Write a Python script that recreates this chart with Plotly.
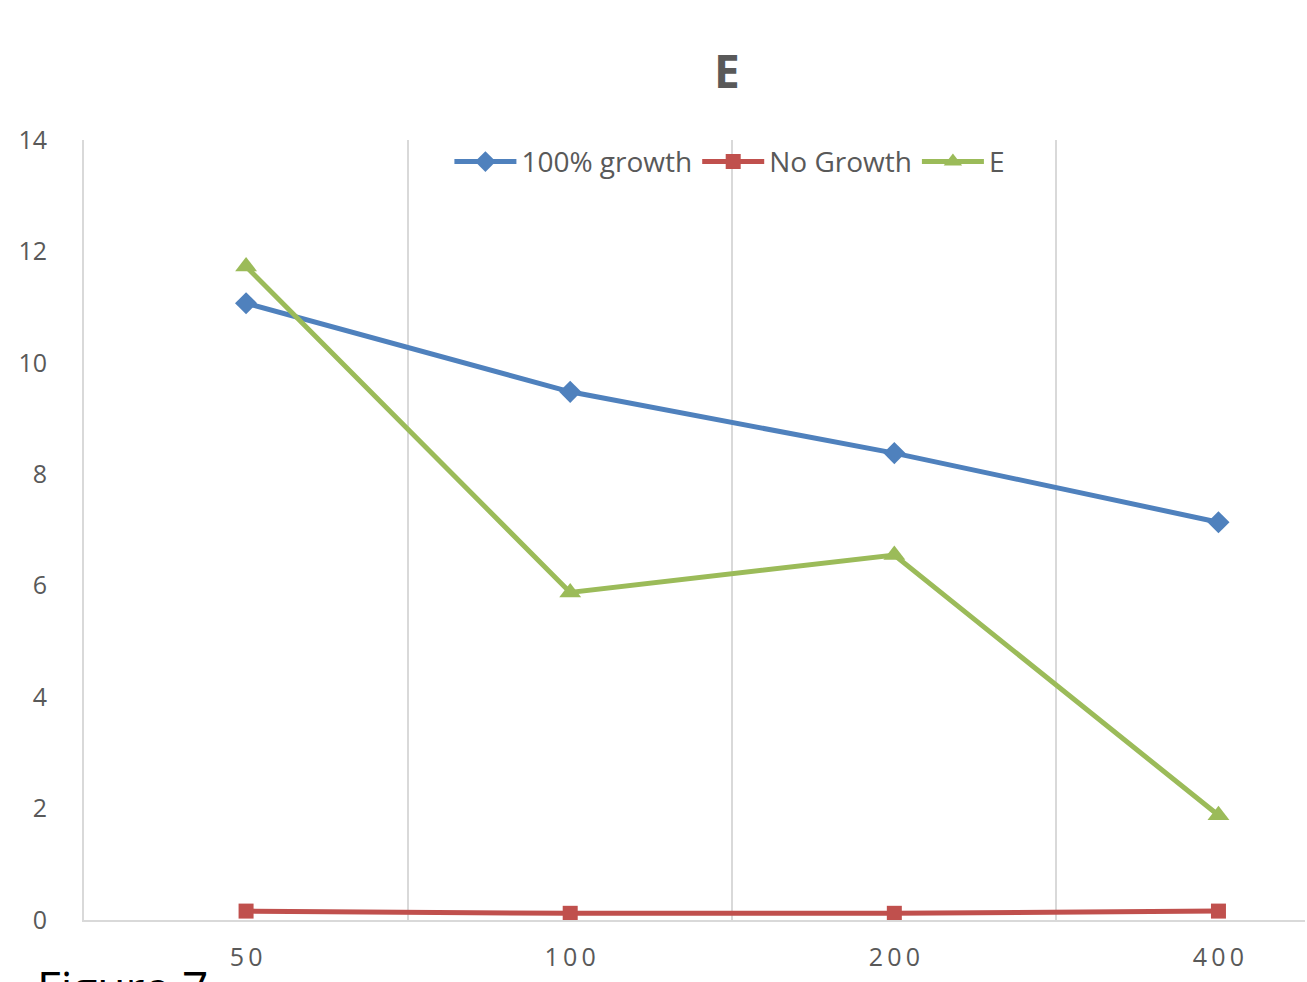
import plotly.graph_objects as go

# Categories along the x axis
concentrations = ["50", "100", "200", "400"]

# Series values
full_growth = [11.07, 9.48, 8.38, 7.14]
no_growth = [0.16, 0.12, 0.12, 0.16]
sample_e = [11.73, 5.88, 6.55, 1.88]

y_ticks = [0, 2, 4, 6, 8, 10, 12, 14]

FONT = "Open Sans"
GREY_TEXT = "#595959"
GRID = "#D9D9D9"

x_idx = list(range(len(concentrations)))
# Excel-style spaced tick labels
spaced_labels = ["\u2009".join(list(c)) for c in concentrations]

fig = go.Figure()
fig.add_trace(go.Scatter(
    x=x_idx, y=full_growth, name="100% growth", mode="lines+markers",
    line=dict(color="#4F81BD", width=5),
    marker=dict(symbol="diamond", size=17, color="#4F81BD"),
))
fig.add_trace(go.Scatter(
    x=x_idx, y=no_growth, name="No Growth", mode="lines+markers",
    line=dict(color="#C0504D", width=5),
    marker=dict(symbol="square", size=15, color="#C0504D"),
))
fig.add_trace(go.Scatter(
    x=x_idx, y=sample_e, name="E", mode="lines+markers",
    line=dict(color="#9BBB59", width=5),
    marker=dict(symbol="triangle-up", size=19, color="#9BBB59"),
))

fig.update_layout(
    width=1307, height=982,
    margin=dict(l=84, r=2, t=140, b=62, autoexpand=False),
    paper_bgcolor="white", plot_bgcolor="white",
    font=dict(family=FONT, color=GREY_TEXT, size=25),
    title=dict(
        text="<b>E</b>", x=727 / 1307, xanchor="center",
        y=1 - 72 / 982, yanchor="middle", yref="container",
        font=dict(family=FONT, size=46, color=GREY_TEXT),
    ),
    showlegend=True,
    legend=dict(
        orientation="h", x=0.529, xanchor="center", y=0.972, yanchor="middle",
        font=dict(family=FONT, size=28, color=GREY_TEXT),
        bgcolor="rgba(0,0,0,0)", itemwidth=62,
    ),
    xaxis=dict(
        range=[-0.5, 3.267], tickmode="array", tickvals=x_idx, ticktext=spaced_labels,
        showgrid=False, zeroline=False, showline=True, linecolor=GRID, linewidth=2,
        ticks="", ticklabelstandoff=14,
        tickfont=dict(family=FONT, size=25, color=GREY_TEXT),
        minor=dict(tickmode="array", tickvals=[0.5, 1.5, 2.5], showgrid=True,
                   gridcolor=GRID, gridwidth=2, ticks=""),
    ),
    yaxis=dict(
        range=[0, 14], tickmode="array", tickvals=y_ticks,
        showgrid=False, zeroline=False, showline=True, linecolor=GRID, linewidth=2,
        ticks="", ticklabelstandoff=30,
        tickfont=dict(family=FONT, size=25, color=GREY_TEXT),
    ),
    annotations=[dict(
        text="Figure 7", xref="paper", yref="paper", x=-0.04, y=-0.044,
        xanchor="left", yanchor="top", showarrow=False,
        font=dict(family=FONT, size=46, color="#000000"),
    )],
)

fig.write_html("out.html")
